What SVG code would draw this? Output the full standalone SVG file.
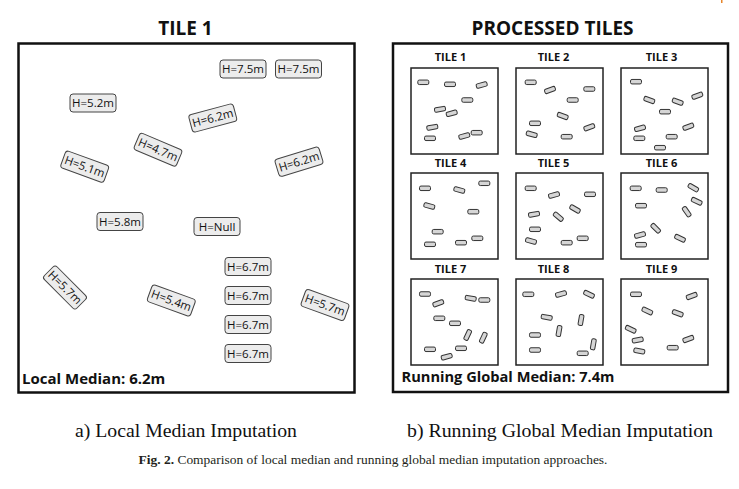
<svg xmlns="http://www.w3.org/2000/svg" xmlns:xlink="http://www.w3.org/1999/xlink" width="739" height="489" viewBox="0 0 739 489">
<style>
.panel{fill:#fff;stroke:#111;stroke-width:2.5}
.title{font-family:"Open Sans","Noto Sans","Liberation Sans",sans-serif;font-weight:bold;font-size:19px;fill:#111;text-anchor:middle}
.lbl{fill:#ececec;stroke:#444;stroke-width:1}
.lt{font-family:"Open Sans","Noto Sans","Liberation Sans",sans-serif;font-size:11.5px;fill:#111;text-anchor:middle}
.med{font-family:"Open Sans","Noto Sans","Liberation Sans",sans-serif;font-weight:bold;font-size:15px;fill:#111}
.tbox{fill:#fff;stroke:#222;stroke-width:1.5}
.tl{font-family:"Open Sans","Noto Sans","Liberation Sans",sans-serif;font-weight:bold;font-size:11px;fill:#111;text-anchor:middle}
.sr{fill:#d6d6d6;stroke:#333;stroke-width:1}
.cap{font-family:"Liberation Serif","Times New Roman",serif;font-size:19px;fill:#111}
.fig{font-family:"Liberation Serif","Times New Roman",serif;font-size:12.5px;fill:#231f20}
</style>
<defs>
<rect id="s" class="sr" x="-5.5" y="-2.25" width="11" height="4.5" rx="1.5"/>
</defs>
<rect x="721" y="0" width="1.5" height="3" fill="#e8852a"/>

<g id="panel-a">
<text class="title" x="185.5" y="35">TILE 1</text>
<rect class="panel" x="18.5" y="43.5" width="336" height="349"/>
<text class="med" x="22" y="384">Local Median: 6.2m</text>
</g>

<g id="lbl-1" transform="translate(243,69)"><rect class="lbl" x="-23" y="-9" width="46" height="18" rx="3"/><text class="lt" y="4">H=7.5m</text></g>
<g id="lbl-2" transform="translate(298.5,69)"><rect class="lbl" x="-23" y="-9" width="46" height="18" rx="3"/><text class="lt" y="4">H=7.5m</text></g>
<g id="lbl-3" transform="translate(93,103)"><rect class="lbl" x="-23" y="-9" width="46" height="18" rx="3"/><text class="lt" y="4">H=5.2m</text></g>
<g id="lbl-4" transform="translate(212.8,118) rotate(-15)"><rect class="lbl" x="-23" y="-9" width="46" height="18" rx="3"/><text class="lt" y="4">H=6.2m</text></g>
<g id="lbl-5" transform="translate(158,149.7) rotate(23)"><rect class="lbl" x="-23" y="-9" width="46" height="18" rx="3"/><text class="lt" y="4">H=4.7m</text></g>
<g id="lbl-6" transform="translate(84.7,166.7) rotate(20)"><rect class="lbl" x="-23" y="-9" width="46" height="18" rx="3"/><text class="lt" y="4">H=5.1m</text></g>
<g id="lbl-7" transform="translate(299,161.7) rotate(-17)"><rect class="lbl" x="-23" y="-9" width="46" height="18" rx="3"/><text class="lt" y="4">H=6.2m</text></g>
<g id="lbl-8" transform="translate(120,221.5)"><rect class="lbl" x="-23" y="-9" width="46" height="18" rx="3"/><text class="lt" y="4">H=5.8m</text></g>
<g id="lbl-9" transform="translate(217,226.5)"><rect class="lbl" x="-23" y="-9" width="46" height="18" rx="3"/><text class="lt" y="4">H=Null</text></g>
<g id="lbl-10" transform="translate(248,266.5)"><rect class="lbl" x="-23" y="-9" width="46" height="18" rx="3"/><text class="lt" y="4">H=6.7m</text></g>
<g id="lbl-11" transform="translate(248,295.5)"><rect class="lbl" x="-23" y="-9" width="46" height="18" rx="3"/><text class="lt" y="4">H=6.7m</text></g>
<g id="lbl-12" transform="translate(248,324.5)"><rect class="lbl" x="-23" y="-9" width="46" height="18" rx="3"/><text class="lt" y="4">H=6.7m</text></g>
<g id="lbl-13" transform="translate(248,353.5)"><rect class="lbl" x="-23" y="-9" width="46" height="18" rx="3"/><text class="lt" y="4">H=6.7m</text></g>
<g id="lbl-14" transform="translate(65,287.5) rotate(45)"><rect class="lbl" x="-23" y="-9" width="46" height="18" rx="3"/><text class="lt" y="4">H=5.7m</text></g>
<g id="lbl-15" transform="translate(171.3,300.5) rotate(20)"><rect class="lbl" x="-23" y="-9" width="46" height="18" rx="3"/><text class="lt" y="4">H=5.4m</text></g>
<g id="lbl-16" transform="translate(325,305) rotate(20)"><rect class="lbl" x="-23" y="-9" width="46" height="18" rx="3"/><text class="lt" y="4">H=5.7m</text></g>

<g id="panel-b">
<text class="title" x="552.5" y="35">PROCESSED TILES</text>
<rect class="panel" x="393" y="43.5" width="335" height="348.5"/>
<text class="med" x="401.5" y="382" textLength="213" lengthAdjust="spacingAndGlyphs">Running Global Median: 7.4m</text>
</g>

<g id="connectors"></g>

<g id="tile-1">
<text class="tl" x="450.5" y="61">TILE 1</text>
<rect class="tbox" x="411" y="68" width="87" height="86"/>
<use xlink:href="#s" transform="translate(423.3,82.3)"/>
<use xlink:href="#s" transform="translate(450,84.3)"/>
<use xlink:href="#s" transform="translate(481.7,85) rotate(-15)"/>
<use xlink:href="#s" transform="translate(467.3,100)"/>
<use xlink:href="#s" transform="translate(440,109.3) rotate(-10)"/>
<use xlink:href="#s" transform="translate(451.7,113.3) rotate(-15)"/>
<use xlink:href="#s" transform="translate(432.3,127.3) rotate(-10)"/>
<use xlink:href="#s" transform="translate(430,138.3)"/>
<use xlink:href="#s" transform="translate(464.3,136) rotate(-15)"/>
<use xlink:href="#s" transform="translate(476.7,132.7)"/>
</g>

<g id="tile-2">
<text class="tl" x="553.5" y="61">TILE 2</text>
<rect class="tbox" x="516" y="68" width="87" height="86"/>
<use xlink:href="#s" transform="translate(530.7,82.3)"/>
<use xlink:href="#s" transform="translate(550,90) rotate(-20)"/>
<use xlink:href="#s" transform="translate(589.3,89)"/>
<use xlink:href="#s" transform="translate(572.7,100)"/>
<use xlink:href="#s" transform="translate(562.7,116) rotate(20)"/>
<use xlink:href="#s" transform="translate(535,123.3)"/>
<use xlink:href="#s" transform="translate(531.7,134.3) rotate(15)"/>
<use xlink:href="#s" transform="translate(566.7,136.7)"/>
<use xlink:href="#s" transform="translate(589.3,127.3) rotate(-20)"/>
</g>

<g id="tile-3">
<text class="tl" x="661.5" y="61">TILE 3</text>
<rect class="tbox" x="621" y="68" width="87" height="86"/>
<use xlink:href="#s" transform="translate(636,81.7)"/>
<use xlink:href="#s" transform="translate(649.3,100) rotate(20)"/>
<use xlink:href="#s" transform="translate(677.7,101.7) rotate(20)"/>
<use xlink:href="#s" transform="translate(697.3,95.7) rotate(-20)"/>
<use xlink:href="#s" transform="translate(665,111.7)"/>
<use xlink:href="#s" transform="translate(640,128.3) rotate(-15)"/>
<use xlink:href="#s" transform="translate(639.3,138.3)"/>
<use xlink:href="#s" transform="translate(671.7,136.7)"/>
<use xlink:href="#s" transform="translate(688.3,126.7) rotate(-20)"/>
<use xlink:href="#s" transform="translate(660,147.7)"/>
</g>

<g id="tile-4">
<text class="tl" x="450.5" y="167">TILE 4</text>
<rect class="tbox" x="411" y="173" width="87" height="86"/>
<use xlink:href="#s" transform="translate(425,188.3)"/>
<use xlink:href="#s" transform="translate(459.3,190) rotate(15)"/>
<use xlink:href="#s" transform="translate(484.3,183.3)"/>
<use xlink:href="#s" transform="translate(429.3,206) rotate(15)"/>
<use xlink:href="#s" transform="translate(473.3,211.7)"/>
<use xlink:href="#s" transform="translate(437.7,231.7)"/>
<use xlink:href="#s" transform="translate(430,244.3)"/>
<use xlink:href="#s" transform="translate(461,242.7)"/>
<use xlink:href="#s" transform="translate(477.3,238.3)"/>
</g>

<g id="tile-5">
<text class="tl" x="553.5" y="167">TILE 5</text>
<rect class="tbox" x="516" y="173" width="87" height="86"/>
<use xlink:href="#s" transform="translate(530.7,188.3)"/>
<use xlink:href="#s" transform="translate(554,195) rotate(-15)"/>
<use xlink:href="#s" transform="translate(590,194.3)"/>
<use xlink:href="#s" transform="translate(575,209) rotate(30)"/>
<use xlink:href="#s" transform="translate(558.3,216.7) rotate(40)"/>
<use xlink:href="#s" transform="translate(534,214.3) rotate(-10)"/>
<use xlink:href="#s" transform="translate(535,229.3)"/>
<use xlink:href="#s" transform="translate(531,241) rotate(15)"/>
<use xlink:href="#s" transform="translate(566.7,242.7)"/>
<use xlink:href="#s" transform="translate(582.7,238.3)"/>
</g>

<g id="tile-6">
<text class="tl" x="661.5" y="167">TILE 6</text>
<rect class="tbox" x="621" y="173" width="87" height="86"/>
<use xlink:href="#s" transform="translate(635.7,188.3)"/>
<use xlink:href="#s" transform="translate(661.7,190)"/>
<use xlink:href="#s" transform="translate(693.3,187.7) rotate(30)"/>
<use xlink:href="#s" transform="translate(696.7,201.3) rotate(25)"/>
<use xlink:href="#s" transform="translate(641,205.7)"/>
<use xlink:href="#s" transform="translate(686.7,211.7) rotate(55)"/>
<use xlink:href="#s" transform="translate(655.7,228.3) rotate(45)"/>
<use xlink:href="#s" transform="translate(640,235) rotate(-15)"/>
<use xlink:href="#s" transform="translate(641,244.7)"/>
<use xlink:href="#s" transform="translate(680,238.3) rotate(25)"/>
</g>

<g id="tile-7">
<text class="tl" x="450.5" y="273">TILE 7</text>
<rect class="tbox" x="411" y="279" width="87" height="86"/>
<use xlink:href="#s" transform="translate(425,294)"/>
<use xlink:href="#s" transform="translate(438.3,303.3) rotate(-20)"/>
<use xlink:href="#s" transform="translate(470.7,298.3) rotate(10)"/>
<use xlink:href="#s" transform="translate(484.3,300)"/>
<use xlink:href="#s" transform="translate(439.3,318.3)"/>
<use xlink:href="#s" transform="translate(455,323.3)"/>
<use xlink:href="#s" transform="translate(467.7,335) rotate(-65)"/>
<use xlink:href="#s" transform="translate(483.3,337.7) rotate(-65)"/>
<use xlink:href="#s" transform="translate(430,349.3)"/>
<use xlink:href="#s" transform="translate(446.7,356.7) rotate(-15)"/>
<use xlink:href="#s" transform="translate(461,348.3)"/>
</g>

<g id="tile-8">
<text class="tl" x="553.5" y="273">TILE 8</text>
<rect class="tbox" x="516" y="279" width="87" height="86"/>
<use xlink:href="#s" transform="translate(528.3,294.3)"/>
<use xlink:href="#s" transform="translate(561,294) rotate(-15)"/>
<use xlink:href="#s" transform="translate(589,294.3) rotate(25)"/>
<use xlink:href="#s" transform="translate(546.7,317.3) rotate(10)"/>
<use xlink:href="#s" transform="translate(581,320) rotate(-80)"/>
<use xlink:href="#s" transform="translate(559,331) rotate(-80)"/>
<use xlink:href="#s" transform="translate(535,335)"/>
<use xlink:href="#s" transform="translate(535,350)"/>
<use xlink:href="#s" transform="translate(593.3,344.3) rotate(-80)"/>
<use xlink:href="#s" transform="translate(582.7,353.3)"/>
</g>

<g id="tile-9">
<text class="tl" x="661.5" y="273">TILE 9</text>
<rect class="tbox" x="621" y="279" width="87" height="86"/>
<use xlink:href="#s" transform="translate(636,294.3)"/>
<use xlink:href="#s" transform="translate(691.7,296) rotate(-20)"/>
<use xlink:href="#s" transform="translate(647.3,311) rotate(25)"/>
<use xlink:href="#s" transform="translate(677.7,313.3) rotate(20)"/>
<use xlink:href="#s" transform="translate(630.7,329.3) rotate(25)"/>
<use xlink:href="#s" transform="translate(637.7,340) rotate(-10)"/>
<use xlink:href="#s" transform="translate(639.3,351) rotate(10)"/>
<use xlink:href="#s" transform="translate(672.7,347.7)"/>
<use xlink:href="#s" transform="translate(688.3,339) rotate(-20)"/>
</g>

<g id="captions">
<text class="cap" x="75" y="437" textLength="222" lengthAdjust="spacingAndGlyphs">a) Local Median Imputation</text>
<text class="cap" x="407" y="437" textLength="306" lengthAdjust="spacingAndGlyphs">b) Running Global Median Imputation</text>
<text class="fig" x="138.5" y="463.5" textLength="469" lengthAdjust="spacingAndGlyphs"><tspan font-weight="bold">Fig. 2.</tspan> Comparison of local median and running global median imputation approaches.</text>
</g>
</svg>
